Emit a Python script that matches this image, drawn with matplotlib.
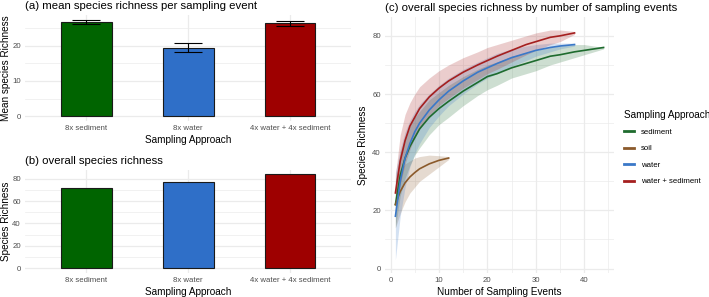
import numpy as np
import matplotlib.pyplot as plt
from matplotlib.ticker import MultipleLocator

plt.rcParams['font.family'] = ['Liberation Sans', 'DejaVu Sans']

# bar data
approaches = ['8x sediment', '8x water', '4x water + 4x sediment']
bar_colors = ['#006400', '#2F6FC8', '#9E0000']
mean_rich = [26.8, 19.5, 26.4]
mean_err = [0.6, 1.3, 0.7]
total_rich = [72, 77, 84]

# accumulation curves (x, mean, lower, upper)
sed_x = [1, 2, 3, 4, 5, 6, 8, 10, 12, 15, 18, 20, 22, 25, 28, 30, 33, 35, 38, 40, 42, 44]
sed_m = [22, 32, 38, 42, 45, 48, 52, 55, 57.5, 61, 64, 66, 67, 69, 70.5, 71.5, 73, 73.5, 74.5, 75, 75.5, 76]
sed_lo = [14, 25, 31, 35.5, 39, 41.5, 46, 49.5, 52, 56, 59.5, 61.5, 63, 65.5, 67, 68, 70, 71, 72.5, 73.5, 74.5, 75.5]
sed_hi = [30, 40, 45, 49, 52, 54, 58, 60.5, 63, 66, 68.5, 70, 71, 73, 74, 75, 76, 76.5, 77, 77, 76.5, 76]

soil_x = [1, 2, 3, 4, 5, 6, 8, 10, 12]
soil_m = [22, 26.5, 29.5, 31.5, 33, 34.3, 36, 37.2, 38]
soil_lo = [14, 19, 23, 26, 28, 30, 32.5, 35, 37.5]
soil_hi = [30, 34, 36, 37, 38, 38.5, 39, 38.8, 38.5]

wat_x = [1, 2, 3, 4, 5, 6, 8, 10, 12, 15, 18, 20, 22, 25, 28, 30, 33, 35, 38]
wat_m = [18, 30, 38, 43, 47, 50, 54.5, 58, 61, 64.5, 67.5, 69, 70.5, 72.5, 74, 75, 76, 76.5, 77]
wat_lo = [3, 18, 28, 35, 39.5, 43, 48.5, 52.5, 56, 60, 63.5, 65.5, 67, 69.5, 71.5, 73, 74.5, 75.5, 76.5]
wat_hi = [33, 41, 47, 51, 54, 56.5, 60, 63, 65.5, 68.5, 71, 72.5, 74, 75.5, 76.5, 77, 77.5, 77.5, 77.5]

ws_x = [1, 2, 3, 4, 5, 6, 8, 10, 12, 15, 18, 20, 22, 25, 28, 30, 33, 35, 38]
ws_m = [26, 37, 44, 49, 52, 55, 59, 62, 64.5, 67.5, 70, 71.5, 73, 75, 77, 78, 79.5, 80, 81]
ws_lo = [20, 29, 36, 41, 45, 48, 52.5, 56, 58.5, 62, 65, 67, 68.5, 71, 73.5, 75, 77, 78, 80.5]
ws_hi = [32, 46, 53, 57, 60, 62.5, 65.5, 68, 70, 72.5, 74.5, 76, 77, 78.5, 80, 81, 82, 82, 81.5]

curves = [
    ('sediment', '#1E6B2E', sed_x, sed_m, sed_lo, sed_hi),
    ('soil', '#8B5A2B', soil_x, soil_m, soil_lo, soil_hi),
    ('water', '#3A78C8', wat_x, wat_m, wat_lo, wat_hi),
    ('water + sediment', '#A51F1F', ws_x, ws_m, ws_lo, ws_hi),
]

TICK = '#4D4D4D'
GRID = '#EBEBEB'
TITLE_FS = 8.2
LAB_FS = 7.2
TICK_FS = 5.6


def minimal(ax):
    for s in ax.spines.values():
        s.set_visible(False)
    ax.tick_params(which='both', length=0, labelsize=TICK_FS, colors=TICK, pad=3)
    ax.grid(True, which='major', color=GRID, lw=0.9)
    ax.grid(True, which='minor', color=GRID, lw=0.5)
    ax.set_axisbelow(True)


fig = plt.figure(figsize=(7.09, 2.97), dpi=100)
ax_a = fig.add_axes([0.0353, 0.5926, 0.46, 0.357])
ax_b = fig.add_axes([0.0353, 0.0818, 0.46, 0.347])
ax_c = fig.add_axes([0.543, 0.081, 0.323, 0.862])

pos = np.arange(1, len(approaches) + 1)

# (a)
ax_a.bar(pos, mean_rich, width=0.5, color=bar_colors, edgecolor='#1a1a1a', lw=0.8, zorder=2)
ax_a.errorbar(pos, mean_rich, yerr=mean_err, fmt='none', ecolor='black', elinewidth=0.8,
              capsize=10, capthick=0.8, zorder=3)
ax_a.set_xlim(0.4, 3.6)
ax_a.set_ylim(-1.4, 28.8)
ax_a.yaxis.set_major_locator(MultipleLocator(10))
ax_a.yaxis.set_minor_locator(MultipleLocator(5))
ax_a.set_xticks(pos)
ax_a.set_xticklabels(approaches)
minimal(ax_a)
ax_a.set_xlabel('Sampling Approach', fontsize=LAB_FS, labelpad=2)
ax_a.set_ylabel('Mean species Richness', fontsize=LAB_FS)
ax_a.yaxis.set_label_coords(-0.043, 0.5)
ax_a.set_title('(a) mean species richness per sampling event', fontsize=TITLE_FS, loc='left',
               pad=4)

# (b)
ax_b.bar(pos, total_rich, width=0.5, color=bar_colors, edgecolor='#1a1a1a', lw=0.8, zorder=2)
ax_b.set_xlim(0.4, 3.6)
ax_b.set_ylim(-4.2, 88.2)
ax_b.yaxis.set_major_locator(MultipleLocator(20))
ax_b.yaxis.set_minor_locator(MultipleLocator(10))
ax_b.set_xticks(pos)
ax_b.set_xticklabels(approaches)
minimal(ax_b)
ax_b.set_xlabel('Sampling Approach', fontsize=LAB_FS, labelpad=2)
ax_b.set_ylabel('Species Richness', fontsize=LAB_FS)
ax_b.yaxis.set_label_coords(-0.043, 0.5)
ax_b.set_title('(b) overall species richness', fontsize=TITLE_FS, loc='left', pad=4)

# (c)
for name, col, x, m, lo, hi in curves:
    ax_c.fill_between(x, lo, hi, color=col, alpha=0.22, lw=0, zorder=2)
for name, col, x, m, lo, hi in curves:
    ax_c.plot(x, m, color=col, lw=1.2, label=name, zorder=3)
ax_c.set_xlim(-1.15, 46.15)
ax_c.set_ylim(-1.5, 86.5)
ax_c.xaxis.set_major_locator(MultipleLocator(10))
ax_c.xaxis.set_minor_locator(MultipleLocator(5))
ax_c.yaxis.set_major_locator(MultipleLocator(20))
ax_c.yaxis.set_minor_locator(MultipleLocator(10))
minimal(ax_c)
ax_c.set_xlabel('Number of Sampling Events', fontsize=LAB_FS, labelpad=2)
ax_c.set_ylabel('Species Richness', fontsize=LAB_FS, labelpad=3)
ax_c.set_title('(c) overall species richness by number of sampling events', fontsize=TITLE_FS,
               loc='left', pad=4)
leg = ax_c.legend(title='Sampling Approach', loc='center left', bbox_to_anchor=(1.02, 0.49),
                  frameon=False, fontsize=TICK_FS, title_fontsize=LAB_FS, handlelength=1.3,
                  handletextpad=0.9, labelspacing=1.15, borderaxespad=0.3)
leg._legend_box.align = 'left'
for line in leg.get_lines():
    line.set_linewidth(2)

fig.savefig('out.png', dpi=100)
